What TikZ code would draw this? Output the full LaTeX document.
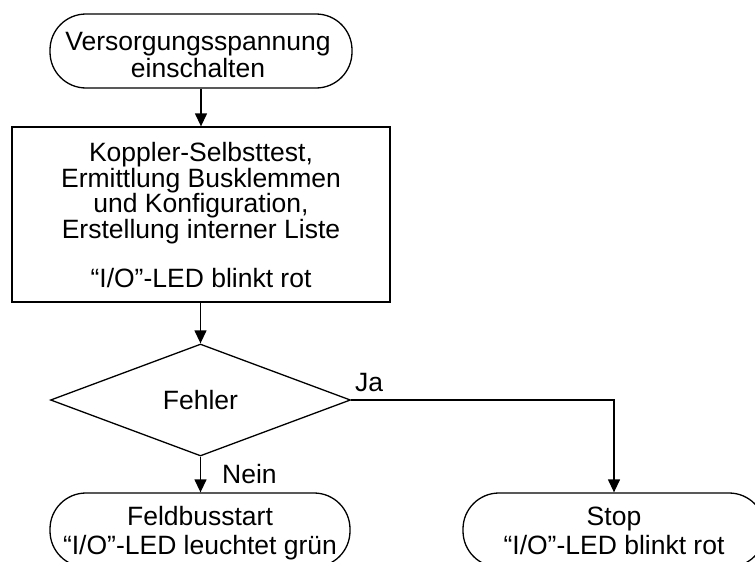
\documentclass[tikz,border=0pt]{standalone}
\usepackage{fontspec}
\setmainfont{Liberation Sans}
\usetikzlibrary{arrows.meta,shapes.geometric}
\begin{document}
\begin{tikzpicture}[x=1pt,y=-1pt,
  txt/.style={inner sep=0pt, align=center, font=\fontsize{26.5}{27}\selectfont},
  line/.style={line width=1.3pt},
  arr/.style={line, -{Triangle[length=13pt,width=12pt]}},
  term/.style={draw, line width=1.3pt, rounded corners=36pt, minimum width=302pt, minimum height=74pt, inner sep=0pt},
  procbox/.style={draw, line width=1.3pt, minimum width=378pt, minimum height=175pt, inner sep=0pt},
  decision/.style={draw, diamond, line width=1.3pt, minimum width=300pt, minimum height=112pt, inner sep=0pt, font=\fontsize{26.5}{27}\selectfont}
]
\clip (0,0) rectangle (755,562);
% shapes
\node[term] (start) at (201,51) {};
\node[procbox] (proc) at (201,214.5) {};
\node[decision] (dec) at (200.5,400) {Fehler};
\node[term, minimum width=300pt] (run) at (200,530) {};
\node[term] (stop) at (614,530) {};
% texts
\node[txt] (starttxt) at (198,55) {Versorgungsspannung\\einschalten};
\node[txt, font=\fontsize{26.5}{23.3}\selectfont] (proctxt) at (201,215) {Koppler-Selbsttest,\\Ermittlung Busklemmen\\und Konfiguration,\\Erstellung interner Liste\\[23.3pt]\textquotedblleft I/O\textquotedblright-LED blinkt rot};
\node[txt, font=\fontsize{26.5}{29}\selectfont] (runtxt) at (200,533) {Feldbusstart\\\textquotedblleft I/O\textquotedblright-LED leuchtet grün};
\node[txt, font=\fontsize{26.5}{29}\selectfont] (stoptxt) at (614,531) {Stop\\\textquotedblleft I/O\textquotedblright-LED blinkt rot};
% connectors
\draw[arr] (start.south) -- (proc.north -| start.south);
\draw[arr] (proc.south -| dec.north) -- (dec.north);
\draw[arr] (dec.south) -- (run.north -| dec.south);
\draw[arr] (dec.east) -| (stop.north);
\node[txt, anchor=base west] (nein) at (222,483) {Nein};
\node[txt, anchor=base west] (ja) at (355,391) {Ja};
\end{tikzpicture}
\end{document}
